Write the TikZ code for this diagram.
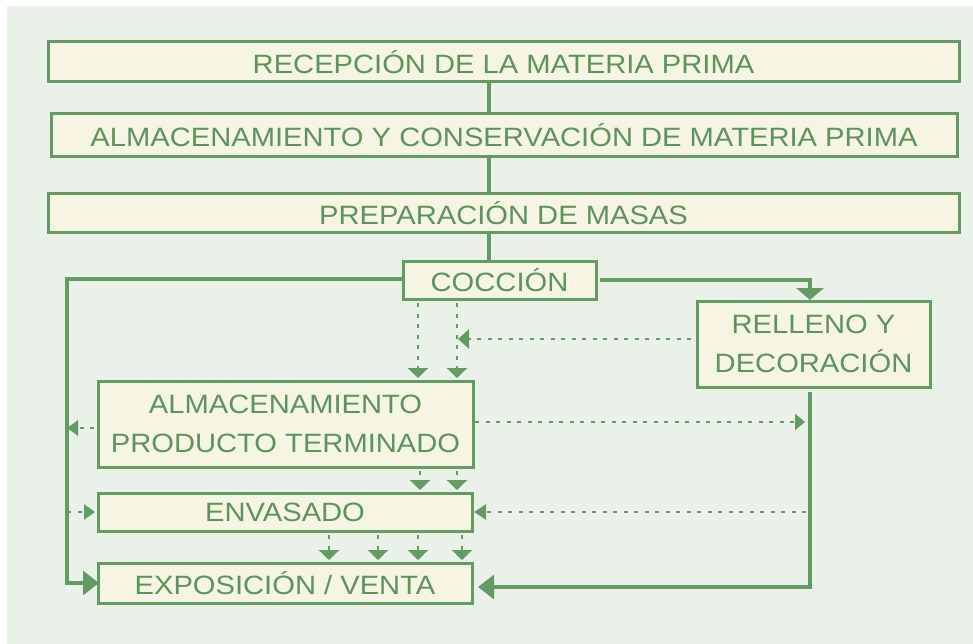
\documentclass[tikz,border=0pt]{standalone}
\usepackage{fontspec}
\newfontfamily\diafont[FakeStretch=1.1]{Liberation Sans}
\usetikzlibrary{arrows.meta}
\definecolor{bgc}{RGB}{234,241,233}
\definecolor{boxfill}{RGB}{246,245,228}
\definecolor{lg}{RGB}{100,154,100}
\definecolor{tg}{RGB}{92,148,92}
\begin{document}
\begin{tikzpicture}[x=1pt,y=-1pt,
  box/.style={draw=lg, fill=boxfill, line width=3pt, inner sep=0pt, outer sep=0pt,
    text=tg, font=\diafont\fontsize{26.5pt}{39pt}\selectfont, align=center},
  conn/.style={draw=lg, line width=3.1pt},
  dotc/.style={draw=lg, line width=2.8pt, dash pattern=on 4pt off 6.5pt},
  smallhead/.style={-{Triangle[width=20pt,length=10pt,fill=lg,color=lg]}},
  bighead/.style={-{Triangle[width=24pt,length=16pt,fill=lg,color=lg]}},
]
\useasboundingbox (0,0) rectangle (973,644);
\fill[white] (0,0) rectangle (973,644);
\fill[bgc] (7,6) rectangle (973,644);

% column coordinates
\coordinate (vx) at (489,0);
\coordinate (L) at (67,0);
\coordinate (R) at (810,0);
\coordinate (c1) at (418,0);
\coordinate (c2) at (457,0);
\coordinate (d1) at (420,0);
\coordinate (d2) at (457,0);
\coordinate (e1) at (329,0);
\coordinate (e2) at (378,0);
\coordinate (e3) at (418,0);
\coordinate (e4) at (462,0);

% boxes
\node[box, minimum width=911pt, minimum height=40pt] (rec) at (503.5,62) {RECEPCIÓN DE LA MATERIA PRIMA};
\node[box, minimum width=906pt, minimum height=43pt] (alm1) at (504,135.5) {ALMACENAMIENTO Y CONSERVACIÓN DE MATERIA PRIMA};
\node[box, minimum width=911pt, minimum height=38pt] (prep) at (503.5,213) {PREPARACIÓN DE MASAS};
\node[box, minimum width=193pt, minimum height=38pt] (coc) at (499.5,280) {COCCIÓN};
\node[box, minimum width=233pt, minimum height=86pt] (rel) at (813.5,344) {RELLENO Y\\DECORACIÓN};
\node[box, minimum width=375pt, minimum height=86pt] (almp) at (285.5,424) {ALMACENAMIENTO\\PRODUCTO TERMINADO};
\node[box, minimum width=374pt, minimum height=38pt] (env) at (285,512) {ENVASADO};
\node[box, minimum width=374pt, minimum height=40pt] (exp) at (285,583) {EXPOSICIÓN / VENTA};

% solid connectors
\draw[conn] (rec.south -| vx) -- (alm1.north -| vx);
\draw[conn] (alm1.south -| vx) -- (prep.north -| vx);
\draw[conn] (prep.south -| vx) -- (coc.north -| vx);
\draw[conn, bighead] ([yshift=1pt]coc.west) -- ([yshift=1pt]coc.west -| L) |- ([xshift=1pt]exp.west);
\draw[conn, -{Triangle[width=27pt,length=12pt,fill=lg,color=lg]}] ([xshift=4pt]coc.east) -| ([yshift=1pt]rel.north -| R);
\draw[conn, bighead] ([yshift=-5pt]rel.south -| R) |- ([shift={(6pt,-4pt)}]exp.east);

% dotted connectors
\draw[dotc, smallhead] ([yshift=-4pt]coc.south -| c1) -- ([yshift=3pt]almp.north -| c1);
\draw[dotc, smallhead] ([yshift=-4pt]coc.south -| c2) -- ([yshift=3pt]almp.north -| c2);
\draw[dotc, -{Triangle[width=19pt,length=11pt,fill=lg,color=lg]}] ([shift={(-6pt,5pt)}]rel.west) -- ([shift={(1pt,5pt)}]rel.west -| c2);
\draw[dotc, -{Triangle[width=16pt,length=10pt,fill=lg,color=lg]}] ([shift={(2pt,2pt)}]almp.east) -- ([shift={(-5pt,2pt)}]almp.east -| R);
\draw[dotc, -{Triangle[width=15pt,length=11pt,fill=lg,color=lg]}] ([shift={(-4pt,-4pt)}]almp.west) -- ([yshift=-4pt]almp.west -| L);
\draw[dotc, smallhead] ([yshift=-4pt]almp.south -| d1) -- ([yshift=3pt]env.north -| d1);
\draw[dotc, smallhead] ([yshift=-4pt]almp.south -| d2) -- ([yshift=3pt]env.north -| d2);
\draw[dotc, -{Triangle[width=15pt,length=11pt,fill=lg,color=lg]}] (env.west -| L) -- ([xshift=-3pt]env.west);
\draw[dotc, -{Triangle[width=15pt,length=12pt,fill=lg,color=lg]}] ([xshift=-4pt]env.east -| R) -- ([xshift=2pt]env.east);
\draw[dotc, smallhead] ([yshift=-4pt]env.south -| e1) -- ([yshift=3pt]exp.north -| e1);
\draw[dotc, smallhead] ([yshift=-4pt]env.south -| e2) -- ([yshift=3pt]exp.north -| e2);
\draw[dotc, smallhead] ([yshift=-4pt]env.south -| e3) -- ([yshift=3pt]exp.north -| e3);
\draw[dotc, smallhead] ([yshift=-4pt]env.south -| e4) -- ([yshift=3pt]exp.north -| e4);
\end{tikzpicture}
\end{document}
